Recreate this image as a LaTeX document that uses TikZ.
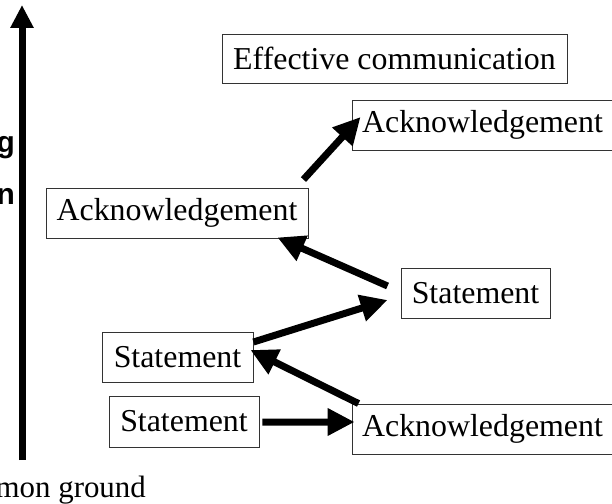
\documentclass[tikz,border=0pt]{standalone}
\usepackage{fontspec}
\setmainfont{Liberation Serif}
\newfontfamily\arialfont{Liberation Sans}
\usetikzlibrary{arrows.meta,calc}
\begin{document}
\begin{tikzpicture}[x=1bp,y=-1bp,
  box/.style={draw=black!80,line width=0.9bp,rectangle,inner sep=0pt,
    font=\fontsize{32}{36}\selectfont},
  bigarrow/.style={line width=7bp,-{Triangle[width=26bp,length=27bp]}},
  sidetxt/.style={inner sep=0pt,font=\arialfont\bfseries\fontsize{30}{36}\selectfont}
]
\useasboundingbox (0,0) rectangle (612,504);
% boxes (centre, width, height taken from reference)
\node[box,minimum width=345bp,minimum height=49bp] (eff) at (394.5,58.5) {Effective communication};
\node[box,minimum width=261bp,minimum height=50bp] (ackTR) at (482.5,125) {Acknowledgement};
\node[box,minimum width=262bp,minimum height=50bp] (ackML) at (177,213) {Acknowledgement};
\node[box,minimum width=149bp,minimum height=50bp] (stR) at (475.5,293) {Statement};
\node[box,minimum width=151bp,minimum height=50bp] (stML) at (177.5,357) {Statement};
\node[box,minimum width=150bp,minimum height=51bp] (stB) at (184,421.5) {Statement};
\node[box,minimum width=261bp,minimum height=50bp] (ackBR) at (482.5,429) {Acknowledgement};
% side labels (cropped in reference)
\node[sidetxt,anchor=base east] (lg) at (15,153) {g};
\node[sidetxt,anchor=base east] (ln) at (15,205) {n};
\node[inner sep=0pt,anchor=base east,font=\fontsize{31}{36}\selectfont] (lcg) at (146,497) {mon ground};
% axis arrow
\coordinate (axB) at (22,460);
\coordinate (axT) at (22,5);
\draw[line width=7bp,-{Triangle[width=22bp,length=23bp]}] (axB) -- (axT);
% connector end points
\coordinate (a1s) at ($(stB.east)+(3,0.5)$);
\coordinate (a1t) at ($(ackBR.west)+(3,-7)$);
\coordinate (a2s) at ($(ackBR.north west)+(7,0)$);
\coordinate (a2t) at ($(stML.east)+(-3,-7)$);
\coordinate (a3s) at ($(stML.east)+(0,-15)$);
\coordinate (a3t) at ($(stR.west)+(-13,7)$);
\coordinate (a4s) at ($(stR.west)+(-13,-7)$);
\coordinate (a4t) at ($(ackML.south east)+(-31,-1)$);
\coordinate (a5s) at ($(ackML.north east)+(-5,-8)$);
\coordinate (a5t) at ($(ackTR.west)+(9,-8)$);
\draw[bigarrow] (a1s) -- (a1t);
\draw[bigarrow] (a2s) -- (a2t);
\draw[bigarrow] (a3s) -- (a3t);
\draw[bigarrow] (a4s) -- (a4t);
\draw[bigarrow] (a5s) -- (a5t);
\end{tikzpicture}
\end{document}
